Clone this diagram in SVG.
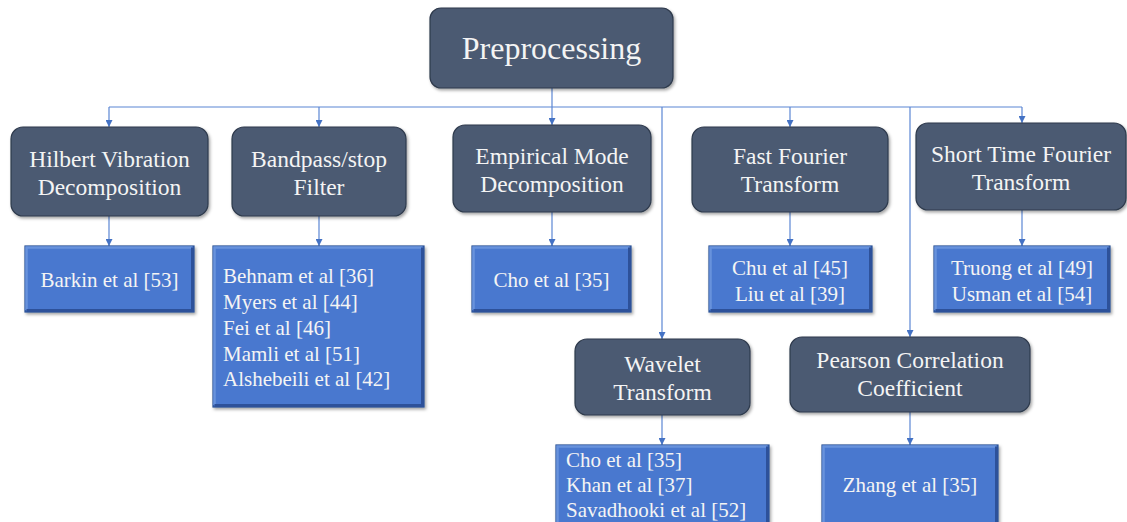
<svg xmlns="http://www.w3.org/2000/svg" width="1127" height="522" viewBox="0 0 1127 522">
  <style>
    .cat rect { fill: #4b5a72; stroke: #2e3a4c; stroke-width: 1.2; filter: url(#shadow); }
    .ref rect { fill: #4878cf; stroke: #2a4f93; stroke-width: 1.2; filter: url(#shadow); }
    .ref .hi { fill: none; stroke: #6892dc; stroke-width: 2.5; }
    .ref .lo { fill: none; stroke: #2d519a; stroke-width: 3; }
    text { fill: #f4f4f4; }
    .t1 { font-size: 23.5px; text-anchor: middle; }
    .t2 { font-size: 21px; }
    .t2c { font-size: 21px; text-anchor: middle; }
    .conn line { stroke: #5b86d4; stroke-width: 1.2; }
  </style>
  <defs>
    <filter id="shadow" x="-10%" y="-10%" width="125%" height="130%">
      <feDropShadow dx="1.5" dy="2" stdDeviation="1.5" flood-color="#000" flood-opacity="0.35"/>
    </filter>
    <marker id="arr" viewBox="0 0 10 10" refX="10" refY="5" markerWidth="7" markerHeight="7" markerUnits="userSpaceOnUse" orient="auto">
      <path d="M0,0 L10,5 L0,10 z" fill="#4472c4"/>
    </marker>
  </defs>

  <rect width="1127" height="522" fill="#ffffff"/>

  <!-- connectors -->
  <g id="connectors" class="conn">
    <line x1="552" y1="88" x2="552" y2="107"/>
    <line x1="109" y1="107" x2="1022" y2="107"/>
    <line x1="109" y1="107" x2="109" y2="127" marker-end="url(#arr)"/>
    <line x1="319" y1="107" x2="319" y2="127" marker-end="url(#arr)"/>
    <line x1="552" y1="107" x2="552" y2="125" marker-end="url(#arr)"/>
    <line x1="662" y1="107" x2="662" y2="339" marker-end="url(#arr)"/>
    <line x1="790" y1="107" x2="790" y2="127" marker-end="url(#arr)"/>
    <line x1="910" y1="107" x2="910" y2="337" marker-end="url(#arr)"/>
    <line x1="1022" y1="107" x2="1022" y2="123" marker-end="url(#arr)"/>
    <line x1="109" y1="216" x2="109" y2="246" marker-end="url(#arr)"/>
    <line x1="319" y1="216" x2="319" y2="246" marker-end="url(#arr)"/>
    <line x1="552" y1="212" x2="552" y2="246" marker-end="url(#arr)"/>
    <line x1="790" y1="212" x2="790" y2="246" marker-end="url(#arr)"/>
    <line x1="1022" y1="210" x2="1022" y2="246" marker-end="url(#arr)"/>
    <line x1="662" y1="415" x2="662" y2="445" marker-end="url(#arr)"/>
    <line x1="910" y1="412" x2="910" y2="445" marker-end="url(#arr)"/>
  </g>

  <g font-family="Liberation Serif, Times New Roman, serif">
    <!-- root -->
    <g id="preprocessing" class="cat">
      <rect x="430" y="8" width="243" height="80" rx="11"/>
      <text x="551.5" y="59" font-size="32" text-anchor="middle">Preprocessing</text>
    </g>

    <!-- methods -->
    <g id="hilbert" class="cat">
      <rect x="11" y="127" width="197" height="89" rx="12"/>
      <text class="t1" x="109.5" y="167">Hilbert Vibration</text>
      <text class="t1" x="109.5" y="195">Decomposition</text>
    </g>
    <g id="bandpass" class="cat">
      <rect x="232" y="127" width="174" height="89" rx="12"/>
      <text class="t1" x="319" y="167">Bandpass/stop</text>
      <text class="t1" x="319" y="195">Filter</text>
    </g>
    <g id="emd" class="cat">
      <rect x="453" y="125" width="198" height="87" rx="12"/>
      <text class="t1" x="552" y="164">Empirical Mode</text>
      <text class="t1" x="552" y="192">Decomposition</text>
    </g>
    <g id="fft" class="cat">
      <rect x="692" y="127" width="196" height="85" rx="12"/>
      <text class="t1" x="790" y="164">Fast Fourier</text>
      <text class="t1" x="790" y="192">Transform</text>
    </g>
    <g id="stft" class="cat">
      <rect x="916" y="123" width="210" height="87" rx="12"/>
      <text class="t1" x="1021" y="162">Short Time Fourier</text>
      <text class="t1" x="1021" y="190">Transform</text>
    </g>
    <g id="wavelet" class="cat">
      <rect x="575" y="339" width="175" height="76" rx="12"/>
      <text class="t1" x="662.5" y="372">Wavelet</text>
      <text class="t1" x="662.5" y="400">Transform</text>
    </g>
    <g id="pearson" class="cat">
      <rect x="790" y="337" width="240" height="75" rx="12"/>
      <text class="t1" x="910" y="368">Pearson Correlation</text>
      <text class="t1" x="910" y="396">Coefficient</text>
    </g>

    <!-- references: flat box with a light top/left and dark bottom/right bevel -->
    <g id="ref-hilbert" class="ref">
      <rect x="25" y="246" width="169" height="66"/>
      <path class="hi" d="M26.5,310 V247.5 H192.5"/>
      <path class="lo" d="M192.5,247.5 V310.5 H26.5"/>
      <text class="t2c" x="109.5" y="287">Barkin et al [53]</text>
    </g>
    <g id="ref-bandpass" class="ref">
      <rect x="213" y="246" width="211" height="161"/>
      <path class="hi" d="M214.5,405 V247.5 H422.5"/>
      <path class="lo" d="M422.5,247.5 V405.5 H214.5"/>
      <text class="t2" x="223" y="283">Behnam et al [36]</text>
      <text class="t2" x="223" y="309">Myers et al [44]</text>
      <text class="t2" x="223" y="335">Fei et al [46]</text>
      <text class="t2" x="223" y="361">Mamli et al [51]</text>
      <text class="t2" x="223" y="386">Alshebeili et al [42]</text>
    </g>
    <g id="ref-emd" class="ref">
      <rect x="472" y="246" width="159" height="66"/>
      <path class="hi" d="M473.5,310 V247.5 H629.5"/>
      <path class="lo" d="M629.5,247.5 V310.5 H473.5"/>
      <text class="t2c" x="551.5" y="287">Cho et al [35]</text>
    </g>
    <g id="ref-fft" class="ref">
      <rect x="709" y="246" width="163" height="66"/>
      <path class="hi" d="M710.5,310 V247.5 H870.5"/>
      <path class="lo" d="M870.5,247.5 V310.5 H710.5"/>
      <text class="t2c" x="790" y="275">Chu et al [45]</text>
      <text class="t2c" x="790" y="301">Liu et al [39]</text>
    </g>
    <g id="ref-stft" class="ref">
      <rect x="934" y="246" width="176" height="66"/>
      <path class="hi" d="M935.5,310 V247.5 H1108.5"/>
      <path class="lo" d="M1108.5,247.5 V310.5 H935.5"/>
      <text class="t2c" x="1022" y="275">Truong et al [49]</text>
      <text class="t2c" x="1022" y="301">Usman et al [54]</text>
    </g>
    <g id="ref-wavelet" class="ref">
      <rect x="556" y="445" width="213" height="82"/>
      <path class="hi" d="M557.5,525 V446.5 H767.5"/>
      <path class="lo" d="M767.5,446.5 V525"/>
      <text class="t2" x="566" y="467">Cho et al [35]</text>
      <text class="t2" x="566" y="492">Khan et al [37]</text>
      <text class="t2" x="566" y="517">Savadhooki et al [52]</text>
    </g>
    <g id="ref-pearson" class="ref">
      <rect x="822" y="445" width="176" height="82"/>
      <path class="hi" d="M823.5,525 V446.5 H996.5"/>
      <path class="lo" d="M996.5,446.5 V525"/>
      <text class="t2c" x="910" y="492">Zhang et al [35]</text>
    </g>
  </g>
</svg>
